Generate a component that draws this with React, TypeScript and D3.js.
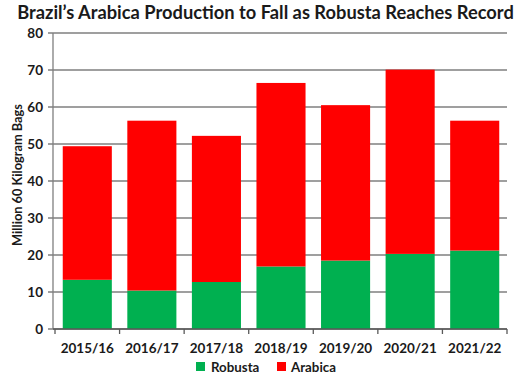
import React from "react";
import * as d3 from "d3";

const categories = ["2015/16", "2016/17", "2017/18", "2018/19", "2019/20", "2020/21", "2021/22"];
const robusta = [13.3, 10.4, 12.7, 16.9, 18.5, 20.3, 21.2];
const arabica = [36.1, 45.9, 39.5, 49.6, 42.0, 49.8, 35.1];
const yTicks = [0, 10, 20, 30, 40, 50, 60, 70, 80];
const seriesNames = ["Robusta", "Arabica"];
const colors = ["#00B050", "#FF0000"];

const W = 525, H = 382;
const M = { left: 53, right: 18, top: 33, bottom: 53 };
const FONT = "Lato, 'Open Sans', sans-serif";

export default function App() {
  const x = d3.scaleBand<string>().domain(categories).range([M.left + 2, W - M.right]).paddingInner(0.24).paddingOuter(0.12);
  const y = d3.scaleLinear().domain([0, 80]).range([H - M.bottom, M.top]);
  const rows = categories.map((c, i) => ({ cat: c, Robusta: robusta[i], Arabica: arabica[i] }));
  const stacked = d3.stack<any>().keys(seriesNames)(rows);
  const step = (W - M.right - (M.left + 2)) / categories.length;
  const x0 = M.left + 2;
  return (
    <svg width={W} height={H} style={{ position: "absolute", left: 0, top: 0, background: "#fff" }} fontFamily={FONT}>
      <text x={W / 2 + 3} y={19} textAnchor="middle" fontSize={18.3} fontWeight={700} fill="#1a1a1a">
        Brazil’s Arabica Production to Fall as Robusta Reaches Record
      </text>
      {yTicks.map((t) => (
        <g key={t}>
          <line x1={M.left - 5} x2={W - M.right} y1={y(t)} y2={y(t)} stroke="#7f7f7f" strokeWidth={1.3} />
          <text x={M.left - 10} y={y(t)} dy="0.35em" textAnchor="end" fontSize={13.5} fontWeight={700} fill="#1a1a1a">{t}</text>
        </g>
      ))}
      {stacked.map((s, si) => (
        <g key={s.key}>
          {s.map((d, i) => (
            <rect key={i} x={x(categories[i])} width={x.bandwidth()} y={y(d[1])} height={y(d[0]) - y(d[1])} fill={colors[si]} />
          ))}
        </g>
      ))}
      <line x1={M.left} x2={M.left} y1={M.top} y2={y(0)} stroke="#7f7f7f" strokeWidth={1.3} />
      <line x1={M.left} x2={W - M.right} y1={y(0)} y2={y(0)} stroke="#595959" strokeWidth={1.3} />
      {d3.range(categories.length + 1).map((i) => (
        <line key={i} x1={x0 + i * step} x2={x0 + i * step} y1={y(0)} y2={y(0) + 5} stroke="#595959" strokeWidth={1.3} />
      ))}
      {categories.map((c) => (
        <text key={c} x={(x(c) as number) + x.bandwidth() / 2} y={353} textAnchor="middle" fontSize={13.5} fontWeight={700} fill="#1a1a1a">{c}</text>
      ))}
      <text transform={`translate(22,${175}) rotate(-90)`} textAnchor="middle" fontSize={12.8} fontWeight={700} fill="#1a1a1a">Million 60 Kilogram Bags</text>
      <g>
        <rect x={196} y={362} width={9} height={9} fill={colors[0]} />
        <text x={211} y={371.5} fontSize={13.3} fontWeight={700} fill="#1a1a1a">{seriesNames[0]}</text>
        <rect x={277} y={362} width={9} height={9} fill={colors[1]} />
        <text x={291} y={371.5} fontSize={13.3} fontWeight={700} fill="#1a1a1a">{seriesNames[1]}</text>
      </g>
    </svg>
  );
}
